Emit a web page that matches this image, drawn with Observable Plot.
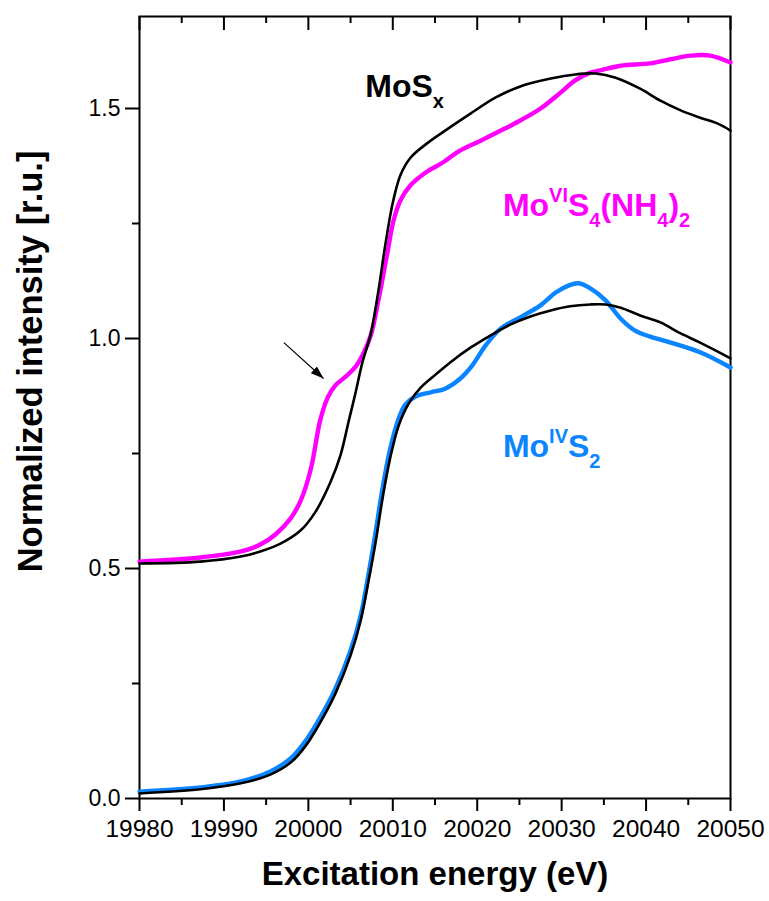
<!DOCTYPE html>
<html>
<head>
<meta charset="utf-8">
<script src="https://cdn.jsdelivr.net/npm/d3@7"></script>
<script src="https://cdn.jsdelivr.net/npm/@observablehq/plot@0.6"></script>
<style>
  body { margin: 0; background: #fff; }
  #chart { width: 769px; height: 901px; }
</style>
</head>
<body>
<div id="chart"></div>
<script>
// ---------- data ----------
// Mo(VI)S4(NH4)2  (magenta)
const energyMoVI = [19980.0, 19987.2, 19992.0, 19994.3, 19996.1, 19997.9, 19999.1, 20000.3, 20001.4, 20002.3, 20003.2, 20004.4, 20005.6, 20006.4, 20007.4, 20008.3, 20009.3, 20010.1, 20010.9, 20012.1, 20013.9, 20015.7, 20018.0, 20020.4, 20022.8, 20025.1, 20027.5, 20029.9, 20031.6, 20033.4, 20034.6, 20037.0, 20040.5, 20042.9, 20045.3, 20047.6, 20050.0];
const intensityMoVI = [0.515, 0.524, 0.537, 0.552, 0.574, 0.609, 0.648, 0.717, 0.822, 0.872, 0.898, 0.917, 0.939, 0.963, 1.007, 1.083, 1.180, 1.257, 1.300, 1.333, 1.361, 1.380, 1.409, 1.430, 1.452, 1.474, 1.500, 1.535, 1.561, 1.578, 1.583, 1.593, 1.598, 1.607, 1.615, 1.615, 1.600];

// MoSx (black, upper)
const energyMoSx = [19980.0, 19987.2, 19992.0, 19994.3, 19996.7, 19999.1, 20000.8, 20002.6, 20003.8, 20004.8, 20005.6, 20006.4, 20007.4, 20008.3, 20009.1, 20010.0, 20010.9, 20012.1, 20013.9, 20016.2, 20019.2, 20022.2, 20025.1, 20028.7, 20031.6, 20034.0, 20036.4, 20039.3, 20041.7, 20044.1, 20046.4, 20048.5, 20050.0];
const intensityMoSx = [0.511, 0.515, 0.526, 0.537, 0.554, 0.583, 0.622, 0.687, 0.746, 0.822, 0.883, 0.948, 1.011, 1.104, 1.202, 1.295, 1.355, 1.393, 1.422, 1.452, 1.489, 1.524, 1.548, 1.565, 1.574, 1.576, 1.567, 1.543, 1.517, 1.496, 1.480, 1.467, 1.452];

// Mo(IV)S2 (blue)
const energyMoIV = [19980.0, 19987.2, 19992.0, 19995.5, 19997.9, 19999.7, 20001.4, 20003.2, 20005.0, 20006.2, 20007.1, 20008.0, 20008.8, 20009.7, 20010.7, 20011.5, 20012.7, 20014.5, 20016.2, 20018.0, 20019.4, 20021.0, 20022.8, 20025.1, 20027.5, 20029.3, 20030.8, 20032.0, 20033.4, 20035.2, 20037.0, 20038.7, 20040.5, 20042.9, 20046.4, 20050.0];
const intensityMoIV = [0.015, 0.024, 0.037, 0.059, 0.087, 0.126, 0.176, 0.239, 0.322, 0.398, 0.485, 0.583, 0.676, 0.761, 0.826, 0.857, 0.874, 0.883, 0.891, 0.913, 0.941, 0.985, 1.022, 1.046, 1.072, 1.100, 1.115, 1.120, 1.109, 1.083, 1.043, 1.017, 1.004, 0.991, 0.970, 0.937];

// MoS2 reference (black, lower)
const energyRef = [19980.0, 19987.2, 19992.0, 19995.5, 19997.9, 19999.7, 20001.4, 20003.2, 20005.0, 20006.2, 20007.1, 20008.0, 20008.8, 20009.7, 20010.7, 20011.9, 20013.3, 20015.1, 20016.8, 20019.2, 20021.6, 20023.9, 20026.3, 20028.7, 20031.0, 20033.4, 20035.2, 20037.0, 20039.3, 20041.7, 20044.1, 20046.4, 20050.0];
const intensityRef = [0.011, 0.020, 0.033, 0.052, 0.078, 0.115, 0.165, 0.228, 0.311, 0.387, 0.470, 0.561, 0.654, 0.741, 0.811, 0.859, 0.893, 0.922, 0.948, 0.980, 1.007, 1.030, 1.048, 1.061, 1.070, 1.074, 1.074, 1.067, 1.050, 1.035, 1.011, 0.991, 0.957];

// axis ticks
const xMajorTicks = [19980, 19990, 20000, 20010, 20020, 20030, 20040, 20050];
const xMinorTicks = [19985, 19995, 20005, 20015, 20025, 20035, 20045];
const yMajorTicks = [0.0, 0.5, 1.0, 1.5];
const yMinorTicks = [0.25, 0.75, 1.25];

// annotations
const arrowData = [{e1: 19997.1, v1: 0.991, e2: 20001.8, v2: 0.913}];
const labels = [
  {e: 20006.8, v: 1.524, color: "#000000", parts: [["MoS", "n"], ["x", "sub"]]},
  {e: 20023.1, v: 1.265, color: "#ff00ff", parts: [["Mo", "n"], ["VI", "sup"], ["S", "n"], ["4", "sub"], ["(NH", "n"], ["4", "sub"], [")", "n"], ["2", "sub"]]},
  {e: 20023.1, v: 0.741, color: "#0a84ff", parts: [["Mo", "n"], ["IV", "sup"], ["S", "n"], ["2", "sub"]]}
];
const xLabel = "Excitation energy (eV)";
const yLabel = "Normalized intensity [r.u.]";

// ---------- build ----------
const FONT = "'Liberation Sans', Arial, Helvetica, sans-serif";
const toRows = (es, vs) => es.map((e, i) => ({e, v: vs[i]}));
const rowsMoVI = toRows(energyMoVI, intensityMoVI);
const rowsMoSx = toRows(energyMoSx, intensityMoSx);
const rowsMoIV = toRows(energyMoIV, intensityMoIV);
const rowsRef = toRows(energyRef, intensityRef);

const W = 769, H = 901, MT = 16, MB = 103, ML = 139, MR = 39;
const innerH = H - MT - MB;

// filled arrowhead marker
const filledHead = (color, context) => {
  const doc = (context && context.document) || document;
  const NS = "http://www.w3.org/2000/svg";
  const m = doc.createElementNS(NS, "marker");
  m.setAttribute("viewBox", "-13 -5 13 10");
  m.setAttribute("refX", "0");
  m.setAttribute("refY", "0");
  m.setAttribute("markerWidth", "13");
  m.setAttribute("markerHeight", "10");
  m.setAttribute("markerUnits", "userSpaceOnUse");
  m.setAttribute("orient", "auto");
  const p = doc.createElementNS(NS, "path");
  p.setAttribute("d", "M-13,-4.5L0,0L-13,4.5Z");
  p.setAttribute("fill", color);
  p.setAttribute("stroke", "none");
  m.appendChild(p);
  return m;
};

const plot = Plot.plot({
  width: W,
  height: H,
  marginTop: MT,
  marginBottom: MB,
  marginLeft: ML,
  marginRight: MR,
  style: {fontFamily: FONT, color: "#000", background: "#fff", overflow: "visible"},
  x: {domain: [19980, 20050]},
  y: {domain: [0, 1.7]},
  marks: [
    // bottom axis (outward ticks)
    Plot.axisX({ticks: xMajorTicks, tickFormat: d => String(d), tickSize: 13, tickPadding: 8, strokeWidth: 2, fontSize: 24.5, label: null}),
    Plot.axisX({ticks: xMinorTicks, tickSize: 7, strokeWidth: 2, text: null, label: null}),
    // top inward ticks
    Plot.ruleX(xMajorTicks, {x: d => d, insetBottom: innerH - 14, strokeWidth: 2}),
    Plot.ruleX(xMinorTicks, {x: d => d, insetBottom: innerH - 7, strokeWidth: 2}),
    // left axis
    Plot.axisY({ticks: yMajorTicks, tickFormat: d3.format(".1f"), tickSize: 14, tickPadding: 5, strokeWidth: 2, fontSize: 23, label: null}),
    Plot.axisY({ticks: yMinorTicks, tickSize: 7, strokeWidth: 2, text: null, label: null}),
    Plot.frame({strokeWidth: 2}),
    // curves
    Plot.line(rowsMoIV, {x: "e", y: "v", stroke: "#0a84ff", strokeWidth: 4.4, curve: "catmull-rom"}),
    Plot.line(rowsMoVI, {x: "e", y: "v", stroke: "#ff00ff", strokeWidth: 4.4, curve: "catmull-rom"}),
    Plot.line(rowsRef, {x: "e", y: "v", stroke: "#000", strokeWidth: 2.6, curve: "catmull-rom"}),
    Plot.line(rowsMoSx, {x: "e", y: "v", stroke: "#000", strokeWidth: 2.6, curve: "catmull-rom"}),
    // arrow
    Plot.link(arrowData, {x1: "e1", y1: "v1", x2: "e2", y2: "v2", stroke: "#000", strokeWidth: 1.2, markerEnd: filledHead}),
    // axis titles
    Plot.text([xLabel], {frameAnchor: "bottom", dy: 86, fontSize: 33, fontWeight: "bold", fill: "#000"}),
    Plot.text([yLabel], {frameAnchor: "left", textAnchor: "middle", rotate: -90, dx: -109, dy: -46, fontSize: 34.5, fontWeight: "bold", fill: "#000"})
  ]
});

// species labels with super/subscripts, positioned through the plot scales
const sx = plot.scale("x"), sy = plot.scale("y");
const svg = d3.select(plot);
labels.forEach(l => {
  const t = svg.append("text")
    .attr("x", sx.apply(l.e))
    .attr("y", sy.apply(l.v))
    .attr("text-anchor", "start")
    .attr("fill", l.color)
    .attr("font-family", FONT)
    .attr("font-weight", "bold")
    .attr("font-size", 32);
  let shift = 0;
  l.parts.forEach(([s, k]) => {
    const target = k === "sup" ? -14 : k === "sub" ? 11 : 0;
    t.append("tspan")
      .attr("dy", target - shift)
      .attr("font-size", k === "n" ? 32 : 20)
      .text(s);
    shift = target;
  });
});

document.getElementById("chart").appendChild(plot);
</script>
</body>
</html>
